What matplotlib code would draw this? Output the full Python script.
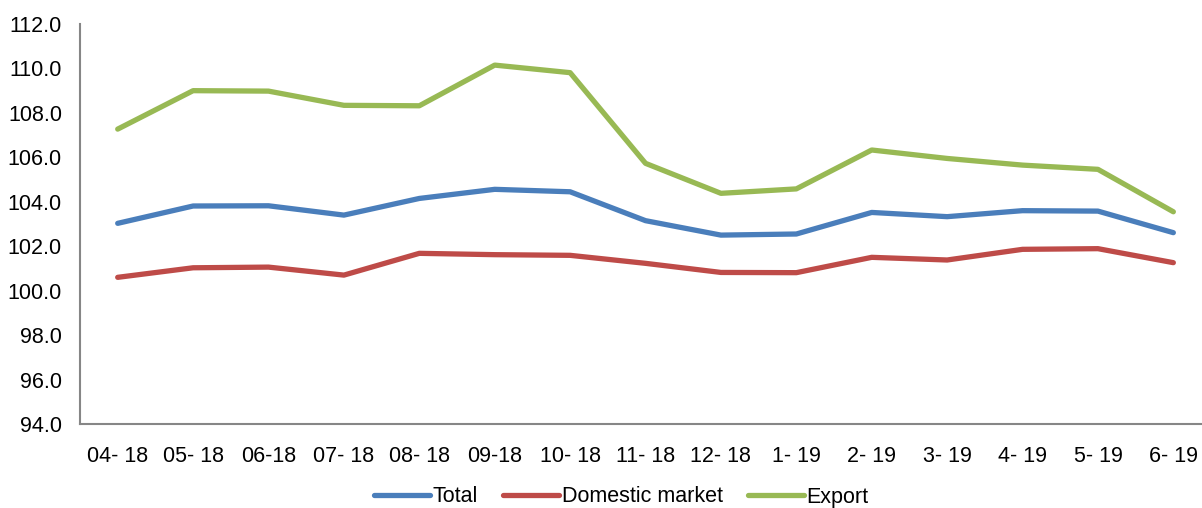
import matplotlib.pyplot as plt

plt.rcParams['font.family'] = ['Liberation Sans', 'DejaVu Sans']

months = ['04- 18', '05- 18', '06-18', '07- 18', '08- 18', '09-18', '10- 18',
          '11- 18', '12- 18', '1- 19', '2- 19', '3- 19', '4- 19', '5- 19', '6- 19']

total = [103.03, 103.81, 103.82, 103.40, 104.15, 104.56, 104.45, 103.15,
         102.50, 102.55, 103.52, 103.33, 103.60, 103.58, 102.61]
domestic = [100.60, 101.03, 101.06, 100.70, 101.68, 101.62, 101.59, 101.23,
            100.82, 100.81, 101.50, 101.38, 101.86, 101.89, 101.26]
export = [107.27, 109.00, 108.98, 108.34, 108.32, 110.15, 109.81, 105.73,
          104.38, 104.58, 106.33, 105.95, 105.65, 105.46, 103.55]

fig = plt.figure(figsize=(12.02, 5.08), dpi=100)
ax = fig.add_axes([80 / 1202, 1 - 424 / 508, 1 - 80 / 1202, 400 / 508])

x = range(len(months))
ax.plot(x, total, color='#4A7EBB', lw=3.8, label='Total', solid_capstyle='round')
ax.plot(x, domestic, color='#BE4B48', lw=3.8, label='Domestic market', solid_capstyle='round')
ax.plot(x, export, color='#98B954', lw=3.8, label='Export', solid_capstyle='round')

ax.set_ylim(94, 112)
ax.set_yticks(range(94, 113, 2))
ax.set_yticklabels([f'{v:.1f}' for v in range(94, 113, 2)])
ax.set_xlim(-0.5, 14.38)
ax.set_xticks(list(x))
ax.set_xticklabels(months)

for s in ['top', 'right']:
    ax.spines[s].set_visible(False)
for s in ['left', 'bottom']:
    ax.spines[s].set_color('#868686')
    ax.spines[s].set_linewidth(1.5)
ax.tick_params(axis='both', length=0, labelsize=15.5, colors='black')
ax.tick_params(axis='y', pad=13)
ax.tick_params(axis='x', pad=16)

fig.legend(loc='center', bbox_to_anchor=(0.517, 1 - 497 / 508), ncol=3, frameon=False,
           fontsize=15.5, handlelength=2.6, handletextpad=0.1, columnspacing=1.2)

fig.savefig('out.png', dpi=100)
